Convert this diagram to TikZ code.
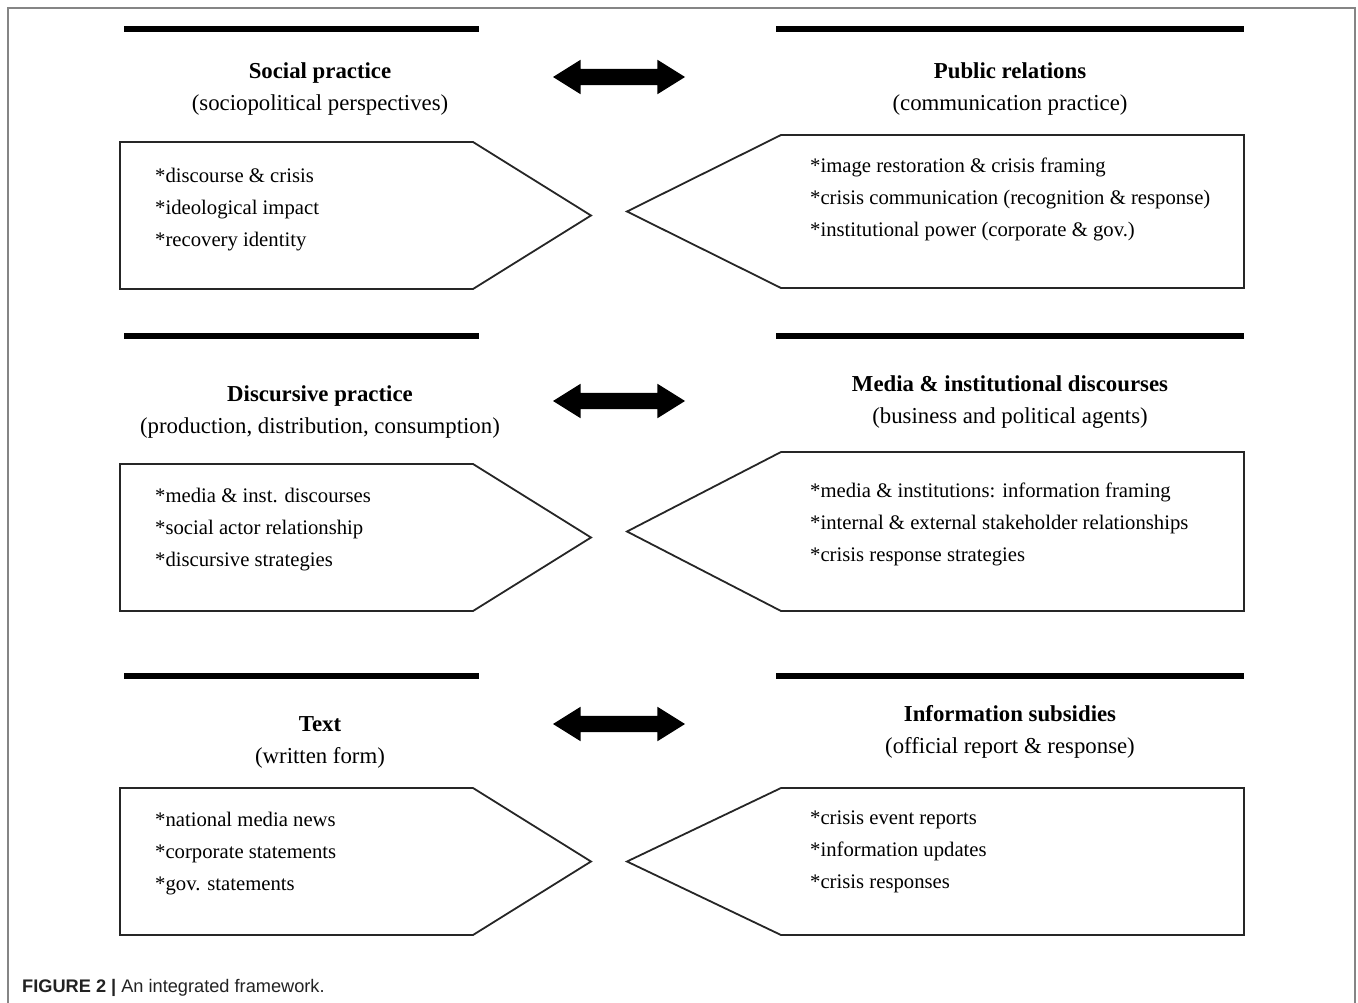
\documentclass[tikz,border=0pt]{standalone}
\usepackage{fontspec}
\setmainfont{Liberation Serif}
\newfontfamily\capfont{Liberation Sans}
\usetikzlibrary{shapes.arrows}
\definecolor{framegray}{HTML}{858585}
\definecolor{capgray}{HTML}{222222}
\tikzset{
  bar/.style={line width=5.5pt},
  penta/.style={draw=black!85, line width=1.8pt, line join=miter},
  heading/.style={align=center, inner sep=0pt, font=\fontsize{22.8}{32}\selectfont},
  items/.style={anchor=west, align=left, inner sep=0pt, font=\fontsize{20.7}{32}\selectfont},
  twoway/.style={double arrow, fill=black, inner xsep=0pt, inner ysep=8pt, minimum height=132pt,
    minimum width=34pt, double arrow head extend=9pt, double arrow tip angle=64},
}

\begin{document}
\begin{tikzpicture}[x=1pt, y=-1pt]
  \useasboundingbox (0, 0) rectangle (1358, 1003);
  % frame
  \draw[framegray, line width=1.5pt] (8, 1003) -- (8, 8) -- (1355, 8) -- (1355, 1003);

  % social practice / public relations
  \draw[bar] (124, 29) -- (479, 29);
  \draw[bar] (776, 29) -- (1244, 29);
  \node[heading] (social) at (320, 89) {\textbf{Social practice}\\(sociopolitical perspectives)};
  \node[heading] (pr) at (1010, 89) {\textbf{Public relations}\\(communication practice)};
  \node[twoway] (arr1) at (619, 77) {};
  \draw[penta] (120, 142) -- (473, 142) -- (591, 215.5) -- (473, 289) -- (120, 289) -- cycle;
  \draw[penta] (627, 211.5) -- (781, 135) -- (1244, 135) -- (1244, 288) -- (781, 288) -- cycle;
  \node[items] (socialitems) at (155, 210) {*discourse \& crisis\\*ideological impact\\*recovery identity};
  \node[items] (pritems) at (810, 199) {*image restoration \& crisis framing\\*crisis communication (recognition \& response)\\*institutional power (corporate \& gov.)};

  % discursive practice / media
  \draw[bar] (124, 336) -- (479, 336);
  \draw[bar] (776, 336) -- (1244, 336);
  \node[heading] (discursive) at (320, 412) {\textbf{Discursive practice}\\(production, distribution, consumption)};
  \node[heading] (media) at (1010, 402.5) {\textbf{Media \& institutional discourses}\\(business and political agents)};
  \node[twoway] (arr2) at (619, 401) {};
  \draw[penta] (120, 464) -- (473, 464) -- (591, 537.5) -- (473, 611) -- (120, 611) -- cycle;
  \draw[penta] (627, 531.5) -- (781, 452) -- (1244, 452) -- (1244, 611) -- (781, 611) -- cycle;
  \node[items] (discitems) at (155, 530) {*media \& inst. discourses\\*social actor relationship\\*discursive strategies};
  \node[items] (mediaitems) at (810, 524) {*media \& institutions: information framing\\*internal \& external stakeholder relationships\\*crisis response strategies};

  % text / information subsidies
  \draw[bar] (124, 676) -- (479, 676);
  \draw[bar] (776, 676) -- (1244, 676);
  \node[heading] (text) at (320, 742.5) {\textbf{Text}\\(written form)};
  \node[heading] (info) at (1010, 732) {\textbf{Information subsidies}\\(official report \& response)};
  \node[twoway] (arr3) at (619, 724) {};
  \draw[penta] (120, 788) -- (473, 788) -- (591, 861.5) -- (473, 935) -- (120, 935) -- cycle;
  \draw[penta] (627, 861.5) -- (781, 788) -- (1244, 788) -- (1244, 935) -- (781, 935) -- cycle;
  \node[items] (textitems) at (155, 854) {*national media news\\*corporate statements\\*gov. statements};
  \node[items] (infoitems) at (810, 852) {*crisis event reports\\*information updates\\*crisis responses};

  % caption
  \node[anchor=base west, inner sep=0pt, text=capgray, font=\capfont\fontsize{18.2}{20}\selectfont]
    (caption) at (22, 992) {\textbf{FIGURE 2 |} An integrated framework.};
\end{tikzpicture}
\end{document}
